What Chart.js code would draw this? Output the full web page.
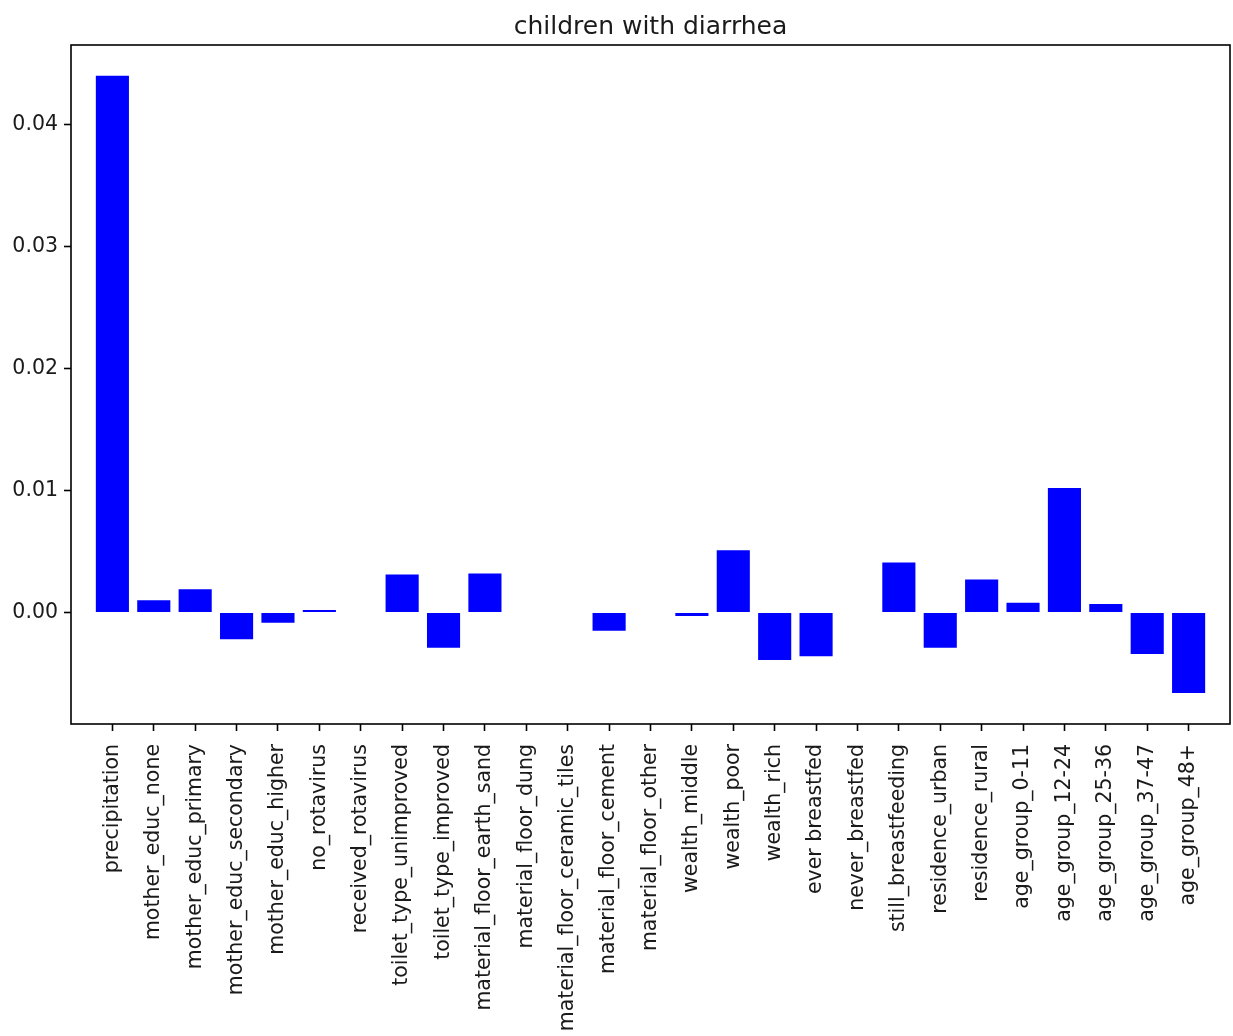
<!DOCTYPE html>
<html>
<head>
<meta charset="utf-8">
<script src="https://cdn.jsdelivr.net/npm/chart.js@4"></script>
<style>
  html, body { margin: 0; padding: 0; background: #ffffff; }
  #wrap { width: 1233px; height: 1036px; }
</style>
</head>
<body>
<div id="wrap"><canvas id="c" width="1233" height="1036"></canvas></div>
<script>
// Predictor names along the x axis
const categories = [
  "precipitation", "mother_educ_none", "mother_educ_primary", "mother_educ_secondary",
  "mother_educ_higher", "no_rotavirus", "received_rotavirus", "toilet_type_unimproved",
  "toilet_type_improved", "material_floor_earth_sand", "material_floor_dung",
  "material_floor_ceramic_tiles", "material_floor_cement", "material_floor_other",
  "wealth_middle", "wealth_poor", "wealth_rich", "ever breastfed", "never_breastfed",
  "still_breastfeeding", "residence_urban", "residence_rural", "age_group_0-11",
  "age_group_12-24", "age_group_25-36", "age_group_37-47", "age_group_48+"
];

// Effect of each predictor on children with diarrhea
const effects = [
  0.0440, 0.0010, 0.0019, -0.0022,
  -0.00085, 0.0002, 0.0, 0.0031,
  -0.0029, 0.0032, 0.0,
  0.0, -0.0015, 0.0,
  -0.0003, 0.0051, -0.0039, -0.0036, 0.0,
  0.0041, -0.0029, 0.0027, 0.0008,
  0.0102, 0.0007, -0.0034, -0.0066
];

const yTickValues = [0, 0.01, 0.02, 0.03, 0.04];
const yRange = [-0.00915, 0.04653];
const xRange = [-1, categories.length];

// Box around the plotting area
const frame = {
  id: "frame",
  afterDraw(chart) {
    const a = chart.chartArea, ctx = chart.ctx;
    ctx.save();
    ctx.strokeStyle = "#000000";
    ctx.lineWidth = 1.6;
    ctx.strokeRect(a.left, a.top, a.right - a.left, a.bottom - a.top);
    ctx.restore();
  }
};

const tickFont = { family: "'DejaVu Sans', sans-serif", size: 20.5 };
const textColor = "#1a1a1a";

new Chart(document.getElementById("c"), {
  type: "bar",
  data: {
    datasets: [{
      data: categories.map((c, i) => ({ x: i, y: effects[i] })),
      backgroundColor: "#0000ff",
      borderWidth: 0,
      barPercentage: 0.8,
      categoryPercentage: 1.0
    }]
  },
  options: {
    responsive: false,
    animation: false,
    devicePixelRatio: 1,
    layout: { padding: { left: 0, right: 3, top: 0, bottom: 0 } },
    plugins: {
      legend: { display: false },
      tooltip: { enabled: false },
      title: {
        display: true,
        text: "children with diarrhea",
        fullSize: false,
        color: textColor,
        font: { family: "'DejaVu Sans', sans-serif", size: 25, weight: "normal", lineHeight: 1.2 },
        padding: { top: 12, bottom: 3 }
      }
    },
    scales: {
      x: {
        type: "linear",
        min: xRange[0],
        max: xRange[1],
        offset: false,
        afterBuildTicks: s => { s.ticks = categories.map((c, i) => ({ value: i })); },
        afterFit: s => { s.height = 312; },
        grid: { offset: false, drawOnChartArea: false, drawTicks: true, tickLength: 7, tickWidth: 1.6, tickColor: "#000000", color: "#000000" },
        border: { display: false },
        ticks: {
          autoSkip: false,
          minRotation: 90,
          maxRotation: 90,
          padding: 13,
          color: textColor,
          font: tickFont,
          callback: v => categories[v]
        }
      },
      y: {
        min: yRange[0],
        max: yRange[1],
        afterBuildTicks: s => { s.ticks = yTickValues.map(v => ({ value: v })); },
        afterFit: s => { s.width = 71; },
        grid: { drawOnChartArea: false, drawTicks: true, tickLength: 7, tickWidth: 1.6, tickColor: "#000000", color: "#000000" },
        border: { display: false },
        ticks: {
          padding: 6,
          color: textColor,
          font: tickFont,
          callback: v => v.toFixed(2)
        }
      }
    }
  },
  plugins: [frame]
});
</script>
</body>
</html>
